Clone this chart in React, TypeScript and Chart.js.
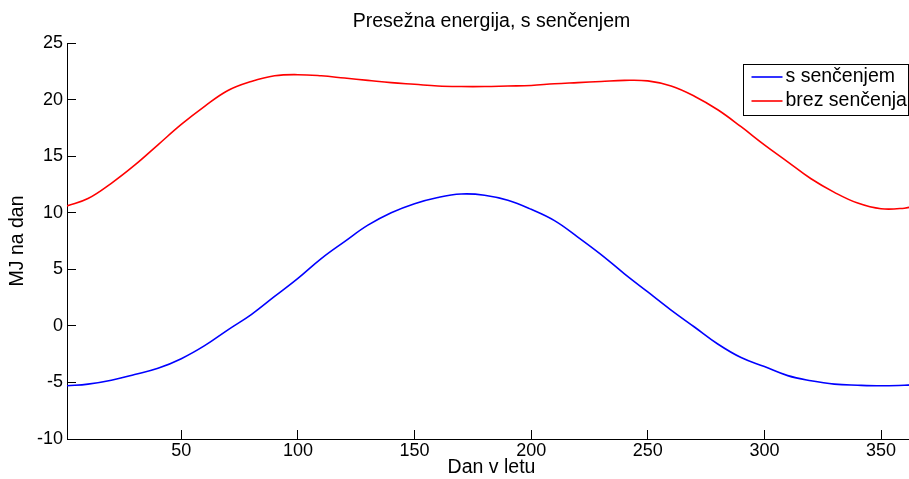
import React, { useEffect, useRef } from 'react';
import { Chart, registerables } from 'chart.js';

Chart.register(...registerables);

const days = [1, 10, 20, 30, 40, 50, 60, 70, 80, 90, 100, 110, 120, 130, 140, 150, 160, 170, 180, 190, 200, 210, 220, 230, 240, 250, 260, 270, 280, 290, 300, 310, 320, 330, 340, 350, 360, 365];
const sSencenjem = [-5.3, -5.15, -4.8, -4.3, -3.75, -2.9, -1.75, -0.35, 1.0, 2.6, 4.2, 5.95, 7.45, 8.9, 10.0, 10.8, 11.35, 11.65, 11.55, 11.1, 10.3, 9.3, 7.85, 6.3, 4.6, 3.0, 1.4, -0.1, -1.6, -2.8, -3.6, -4.4, -4.85, -5.15, -5.25, -5.3, -5.25, -5.2];
const brezSencenja = [10.6, 11.25, 12.6, 14.2, 16.0, 17.8, 19.4, 20.8, 21.6, 22.1, 22.2, 22.1, 21.9, 21.7, 21.5, 21.35, 21.2, 21.15, 21.15, 21.2, 21.25, 21.4, 21.5, 21.6, 21.7, 21.65, 21.2, 20.3, 19.1, 17.6, 16.0, 14.5, 13.0, 11.8, 10.85, 10.35, 10.4, 10.6];
const xTickValues = [50, 100, 150, 200, 250, 300, 350];
const yMin = -10;
const yMax = 25;
const yStep = 5;
const titleText = 'Presežna energija, s senčenjem';
const xAxisLabel = 'Dan v letu';
const yAxisLabel = 'MJ na dan';
const seriesLabels = ['s senčenjem', 'brez senčenja'];

const FONT = '"Liberation Sans", Arial, Helvetica, sans-serif';
const TICK_SIZE = 18;
const TEXT_SIZE = 19.5;

const decorPlugin = {
  id: 'matlabDecor',
  afterDraw(chart: any) {
    const ctx = chart.ctx;
    const a = chart.chartArea;
    ctx.save();
    ctx.font = `${TEXT_SIZE}px ${FONT}`;
    ctx.fillStyle = '#000';
    ctx.textAlign = 'center';
    ctx.textBaseline = 'middle';
    ctx.fillText(titleText, (a.left + a.right) / 2, a.top - 21);

    const bx = Math.round(a.right - 173) + 0.5;
    const by = Math.round(a.top + 21) + 0.5;
    const bw = 165;
    const bh = 51;
    ctx.fillStyle = '#fff';
    ctx.fillRect(bx, by, bw, bh);
    ctx.strokeStyle = '#000';
    ctx.lineWidth = 1;
    ctx.strokeRect(bx, by, bw, bh);
    chart.data.datasets.forEach((ds: any, i: number) => {
      const y = by + 12.5 + i * 24;
      ctx.strokeStyle = ds.borderColor;
      ctx.lineWidth = 1.6;
      ctx.beginPath();
      ctx.moveTo(bx + 8, y);
      ctx.lineTo(bx + 39, y);
      ctx.stroke();
      ctx.fillStyle = '#000';
      ctx.textAlign = 'left';
      ctx.textBaseline = 'middle';
      ctx.fillText(ds.label, bx + 42, y);
    });
    ctx.restore();
  },
};

export default function App() {
  const canvasRef = useRef<HTMLCanvasElement | null>(null);

  useEffect(() => {
    const canvas = canvasRef.current;
    if (!canvas) return;
    const chart = new Chart(canvas, {
      type: 'line',
      data: {
        datasets: [
          {
            label: seriesLabels[0],
            data: days.map((d, i) => ({ x: d, y: sSencenjem[i] })),
            borderColor: '#0000ff',
            backgroundColor: '#0000ff',
            borderWidth: 1.6,
            pointRadius: 0,
            tension: 0.4,
            fill: false,
          },
          {
            label: seriesLabels[1],
            data: days.map((d, i) => ({ x: d, y: brezSencenja[i] })),
            borderColor: '#ff0000',
            backgroundColor: '#ff0000',
            borderWidth: 1.6,
            pointRadius: 0,
            tension: 0.4,
            fill: false,
          },
        ],
      },
      options: {
        responsive: false,
        animation: false,
        devicePixelRatio: 1,
        layout: { padding: { left: 0, right: 9, top: 43, bottom: 0 } },
        plugins: {
          legend: { display: false },
          title: { display: false },
          tooltip: { enabled: false },
        },
        scales: {
          x: {
            type: 'linear',
            min: 1,
            max: 365,
            afterBuildTicks: (scale: any) => {
              scale.ticks = xTickValues.map((v) => ({ value: v }));
            },
            afterFit: (scale: any) => {
              scale.height = 40;
            },
            grid: {
              drawOnChartArea: false,
              drawTicks: true,
              tickLength: -9,
              color: '#000',
              lineWidth: 1,
            },
            border: { display: true, color: '#000', width: 1 },
            ticks: {
              color: '#000',
              font: { family: FONT, size: TICK_SIZE },
              padding: 10,
              maxRotation: 0,
              autoSkip: false,
              callback: (v: any) => String(v),
            },
            title: {
              display: true,
              text: xAxisLabel,
              color: '#000',
              font: { family: FONT, size: TEXT_SIZE },
              padding: { top: 0, bottom: 0 },
            },
          },
          y: {
            type: 'linear',
            min: yMin,
            max: yMax,
            afterFit: (scale: any) => {
              scale.width = 67;
            },
            grid: {
              drawOnChartArea: false,
              drawTicks: true,
              tickLength: -9,
              color: '#000',
              lineWidth: 1,
            },
            border: { display: true, color: '#000', width: 1 },
            ticks: {
              stepSize: yStep,
              color: '#000',
              font: { family: FONT, size: TICK_SIZE },
              padding: 13,
              callback: (v: any) => String(v),
            },
            title: {
              display: true,
              text: yAxisLabel,
              color: '#000',
              font: { family: FONT, size: TEXT_SIZE },
              padding: { top: 6, bottom: 0 },
            },
          },
        },
      },
      plugins: [decorPlugin],
    } as any);
    return () => {
      chart.destroy();
    };
  }, []);

  return (
    <div style={{ position: 'fixed', left: 0, top: 0, width: 925, height: 479, overflow: 'hidden', background: '#fff' }}>
      <canvas ref={canvasRef} width={925} height={479} style={{ display: 'block', width: 925, height: 479 }} />
    </div>
  );
}
